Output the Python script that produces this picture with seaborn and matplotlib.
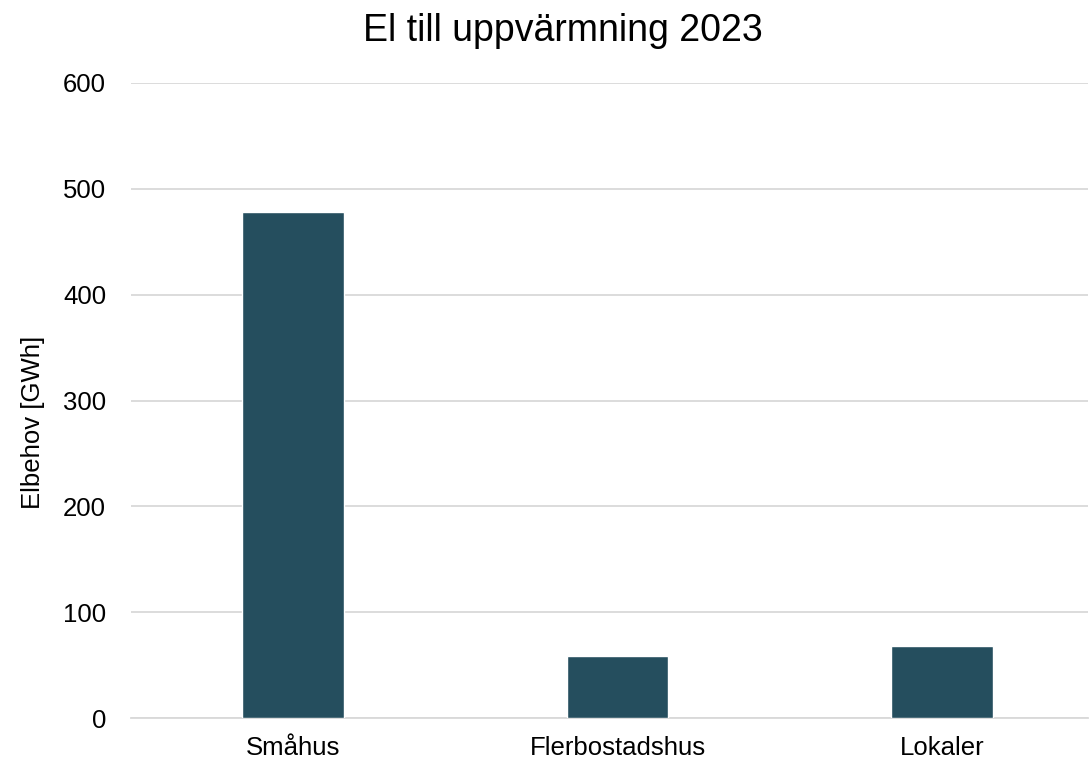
import matplotlib
matplotlib.use("Agg")
import matplotlib.pyplot as plt
import seaborn as sns
import pandas as pd

categories = ["Småhus", "Flerbostadshus", "Lokaler"]
values = [478, 59, 68]
yticks = [0, 100, 200, 300, 400, 500, 600]
title = "El till uppvärmning 2023"
ylabel = "Elbehov [GWh]"

sns.set_theme(style="white")
plt.rcParams['font.family'] = ['Liberation Sans', 'DejaVu Sans']

df = pd.DataFrame({"kategori": categories, "varde": values})

fig = plt.figure(figsize=(10.89, 7.59), dpi=100)
ax = fig.add_axes([131/1089, 1 - 718.3/759, (1088 - 131)/1089, (718.3 - 82.7)/759])

sns.barplot(data=df, x="kategori", y="varde", color="#254E5E", saturation=1,
            width=0.313, ax=ax, zorder=3)

ax.set_ylim(0, 600)
ax.set_xlim(-0.5, 2.45)
ax.set_yticks(yticks)
ax.set_yticklabels([str(t) for t in yticks], fontsize=18.5, color="#000000")
ax.tick_params(axis="x", labelsize=18.5, colors="#000000", length=0, pad=13)
ax.tick_params(axis="y", length=0, pad=18)
ax.yaxis.grid(True, color="#D9D9D9", linewidth=1.3, zorder=0)
ax.set_axisbelow(True)
for s in ["top", "right", "left"]:
    ax.spines[s].set_visible(False)
ax.spines["bottom"].set_color("#D9D9D9")
ax.spines["bottom"].set_linewidth(1.3)
ax.set_xlabel("")
ax.set_ylabel(ylabel, fontsize=18.5, color="#000000")
ax.yaxis.set_label_coords(-0.09, 0.466)
fig.suptitle(title, fontsize=27, y=0.983, x=563/1089, color="#000000")

fig.savefig("out.png", dpi=100)
